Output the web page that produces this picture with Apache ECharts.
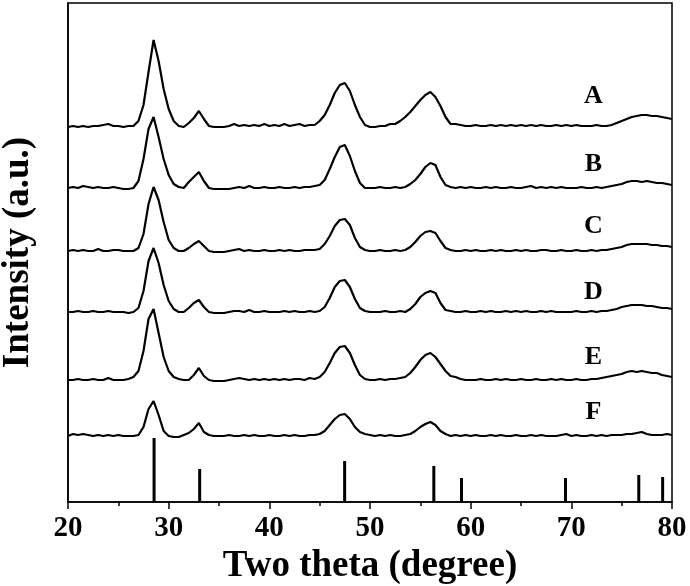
<!DOCTYPE html>
<html>
<head>
<meta charset="utf-8">
<script src="https://cdn.jsdelivr.net/npm/echarts@6/dist/echarts.min.js"></script>
<style>
html,body{margin:0;padding:0;background:#fff;}
#chart{width:690px;height:586px;}
</style>
</head>
<body>
<div id="chart"></div>
<script>
// two theta sampling grid (degree)
var twoTheta = [20,20.5,21,21.5,22,22.5,23,23.5,24,24.5,
    25,25.5,26,26.5,27,27.5,28,28.5,29,29.5,
    30,30.5,31,31.5,32,32.5,33,33.5,34,34.5,
    35,35.5,36,36.5,37,37.5,38,38.5,39,39.5,
    40,40.5,41,41.5,42,42.5,43,43.5,44,44.5,
    45,45.5,46,46.5,47,47.5,48,48.5,49,49.5,
    50,50.5,51,51.5,52,52.5,53,53.5,54,54.5,
    55,55.5,56,56.5,57,57.5,58,58.5,59,59.5,
    60,60.5,61,61.5,62,62.5,63,63.5,64,64.5,
    65,65.5,66,66.5,67,67.5,68,68.5,69,69.5,
    70,70.5,71,71.5,72,72.5,73,73.5,74,74.5,
    75,75.5,76,76.5,77,77.5,78,78.5,79,79.5,
    80];

// sample names and vertical offset of every pattern (a.u.)
var sampleNames = ['A','B','C','D','E','F'];
var sampleOffsets = [375, 313, 250, 189, 121, 65];

var intA = [0,1,0,1,0,1,1,2,3,1,
    1,0,1,1,6,22,55,87,66,38,
    18,6,1,0,4,9,16,8,1,0,
    0,0,1,3,1,2,1,2,1,3,
    1,2,1,3,1,2,3,1,2,2,
    6,12,22,34,42,44,36,22,10,2,
    0,0,1,1,3,3,6,10,15,21,
    27,32,35,30,21,10,3,3,2,1,
    1,2,1,1,2,1,2,1,2,1,
    2,1,2,1,2,1,1,2,1,2,
    1,2,1,1,1,2,1,1,2,4,
    6,8,10,11,12,12,11,11,10,9,
    8];
var intB = [1,2,1,3,2,1,2,1,1,2,
    1,0,0,1,8,30,60,72,52,30,
    14,5,2,1,7,12,17,8,1,0,
    0,0,0,1,2,1,3,1,1,2,
    1,1,2,1,1,2,1,2,2,3,
    4,9,20,32,42,44,33,18,6,1,
    1,1,2,1,1,2,1,2,5,9,
    15,22,26,24,12,4,2,1,2,1,
    2,1,1,2,1,2,1,1,2,1,
    1,2,3,1,2,1,2,1,2,1,
    1,1,2,1,1,2,1,2,3,4,
    5,7,8,8,7,8,7,6,6,5,
    4];
var intC = [1,2,1,2,1,1,3,1,1,2,
    2,1,1,1,4,18,48,65,52,30,
    12,4,1,1,4,8,11,6,1,0,
    0,0,1,2,3,1,2,1,1,2,
    1,1,2,1,2,1,1,2,2,2,
    3,8,16,26,32,33,27,14,5,2,
    1,1,2,1,1,2,1,2,5,10,
    16,20,21,19,11,4,2,1,1,2,
    1,2,1,1,2,1,2,1,1,2,
    1,2,1,1,2,2,1,1,2,1,
    1,2,1,1,2,1,2,2,3,4,
    5,7,8,8,8,8,7,7,6,6,
    5];
var intD = [1,1,2,1,1,2,1,1,2,1,
    1,1,0,1,5,22,52,65,50,28,
    12,4,1,1,5,10,13,6,1,0,
    0,0,1,2,2,1,3,1,1,2,
    1,1,1,2,1,2,1,1,2,1,
    2,6,15,26,32,33,26,14,5,2,
    1,1,1,2,1,1,2,1,4,9,
    16,20,22,20,10,3,2,1,1,2,
    1,1,2,1,2,1,1,2,1,2,
    1,2,1,1,2,1,2,1,1,1,
    1,2,1,1,2,1,2,2,3,4,
    6,7,8,8,8,7,7,6,5,5,
    4];
var intE = [1,1,2,1,1,2,1,1,3,1,
    1,1,2,4,10,30,62,72,48,24,
    10,4,2,1,1,6,13,5,1,0,
    0,0,1,2,3,2,1,2,1,2,
    1,2,1,2,1,2,2,1,3,2,
    4,9,18,28,34,35,28,16,6,2,
    1,1,2,1,2,2,3,4,8,14,
    21,26,28,24,17,10,5,4,2,1,
    1,1,2,1,1,2,1,2,1,1,
    2,1,1,2,1,1,2,1,2,1,
    1,2,1,1,2,2,3,4,5,6,
    7,9,10,9,10,9,8,8,6,5,
    4];
var intF = [1,3,2,3,2,1,2,1,2,1,
    2,1,1,1,2,10,28,36,22,6,
    1,0,0,2,4,8,14,5,2,1,
    1,1,2,1,1,2,1,2,1,1,
    2,1,1,2,1,2,1,1,2,2,
    3,6,12,18,22,23,18,10,5,3,
    2,1,2,1,2,1,1,2,3,6,
    10,13,15,12,6,3,1,2,1,2,
    1,2,1,1,2,1,2,1,1,2,
    1,1,2,1,2,1,1,1,2,3,
    1,2,1,1,2,1,2,1,2,2,
    2,3,3,4,5,3,2,2,2,3,
    2];
var sampleInts = [intA, intB, intC, intD, intE, intF];

// standard pattern sticks
var refPos = [28.55, 33.08, 47.48, 56.34, 59.09, 69.42, 76.70, 79.07];
var refInt = [64, 33, 41, 36, 24, 24, 27, 25];

// where the letters sit (data coords)
var labelX = 72.2;
var labelY = [406, 338, 276, 210, 145, 90];

var FONT = 'Liberation Serif';
var chart = echarts.init(document.getElementById('chart'));

var series = [];
for (var s = 0; s < sampleNames.length; s++) {
    var pts = [];
    for (var i = 0; i < twoTheta.length; i++) {
        pts.push([twoTheta[i], sampleOffsets[s] + sampleInts[s][i]]);
    }
    series.push({
        name: sampleNames[s],
        type: 'line',
        data: pts,
        symbol: 'none',
        lineStyle: {color: '#000', width: 2.2},
        silent: true
    });
}
var sticks = [];
for (var k = 0; k < refPos.length; k++) {
    sticks.push([refPos[k], refInt[k]]);
}
series.push({
    type: 'bar',
    data: sticks,
    barWidth: 3,
    itemStyle: {color: '#000'},
    silent: true
});
var lbl = [];
for (var j = 0; j < sampleNames.length; j++) {
    lbl.push([labelX, labelY[j], sampleNames[j]]);
}
series.push({
    type: 'scatter',
    data: lbl,
    symbolSize: 1,
    itemStyle: {color: '#fff', opacity: 1},
    label: {
        show: true,
        position: 'inside',
        formatter: function (p) { return p.value[2]; },
        fontFamily: FONT,
        fontWeight: 'bold',
        fontSize: 26,
        color: '#000',
        opacity: 1,
        textBorderWidth: 0
    },
    silent: true
});

chart.setOption({
    animation: false,
    backgroundColor: '#fff',
    grid: {left: 68, right: 18, top: 3, bottom: 84, outerBoundsMode: 'none', containLabel: false,
        show: true, borderColor: '#000', borderWidth: 1.5},
    xAxis: {
        type: 'value',
        min: 20, max: 80, interval: 10,
        name: 'Two theta (degree)',
        nameLocation: 'middle',
        nameGap: 35,
        nameTextStyle: {fontFamily: FONT, fontWeight: 'bold', fontSize: 37, color: '#000'},
        axisLine: {show: true, lineStyle: {color: '#000', width: 1.5}},
        axisTick: {show: true, inside: false, length: 7, lineStyle: {color: '#000', width: 1.5}},
        minorTick: {show: true, splitNumber: 2, length: 4, lineStyle: {color: '#000', width: 1.5}},
        axisLabel: {margin: 12, fontFamily: FONT, fontWeight: 'bold', fontSize: 29, color: '#000'},
        splitLine: {show: false}
    },
    yAxis: {
        type: 'value',
        min: 0, max: 499,
        name: 'Intensity (a.u.)',
        nameLocation: 'middle',
        nameGap: 31,
        nameRotate: 90,
        nameTextStyle: {fontFamily: FONT, fontWeight: 'bold', fontSize: 37, color: '#000'},
        axisLine: {show: true, lineStyle: {color: '#000', width: 1.5}},
        axisTick: {show: false},
        axisLabel: {show: false},
        splitLine: {show: false}
    },
    series: series
});
</script>
</body>
</html>
